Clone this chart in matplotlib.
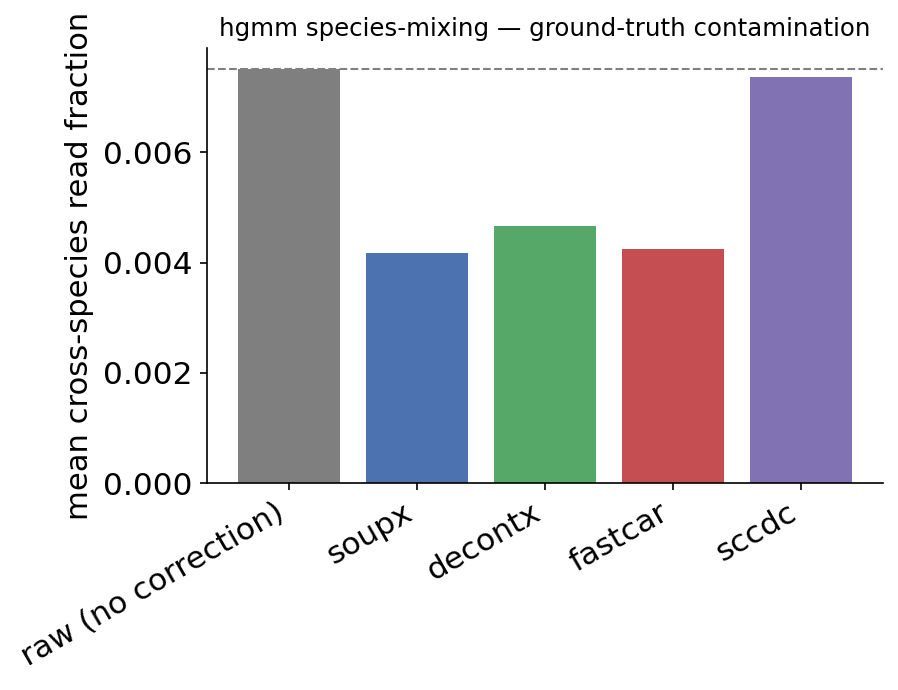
import matplotlib
matplotlib.use("Agg")
import matplotlib.pyplot as plt

methods = ["raw (no correction)", "soupx", "decontx", "fastcar", "sccdc"]
fractions = [0.00752, 0.00417, 0.00466, 0.00424, 0.00737]
colors = ["#7f7f7f", "#4C72B0", "#55A868", "#C44E52", "#8172B3"]

fig, ax = plt.subplots(figsize=(5.987, 4.6), dpi=150)
ax.bar(methods, fractions, color=colors, width=0.8)
ax.axhline(fractions[0], color="gray", linestyle="--", linewidth=1)

ax.set_ylabel("mean cross-species read fraction", fontsize=14.7)
ax.set_title("hgmm species-mixing — ground-truth contamination", fontsize=11.7)
ax.tick_params(axis="both", labelsize=15)
plt.setp(ax.get_xticklabels(), rotation=30, ha="right")
ax.spines["top"].set_visible(False)
ax.spines["right"].set_visible(False)

fig.subplots_adjust(left=0.2305, right=0.9833, top=0.9304, bottom=0.30)
fig.savefig("out.png", dpi=150)
